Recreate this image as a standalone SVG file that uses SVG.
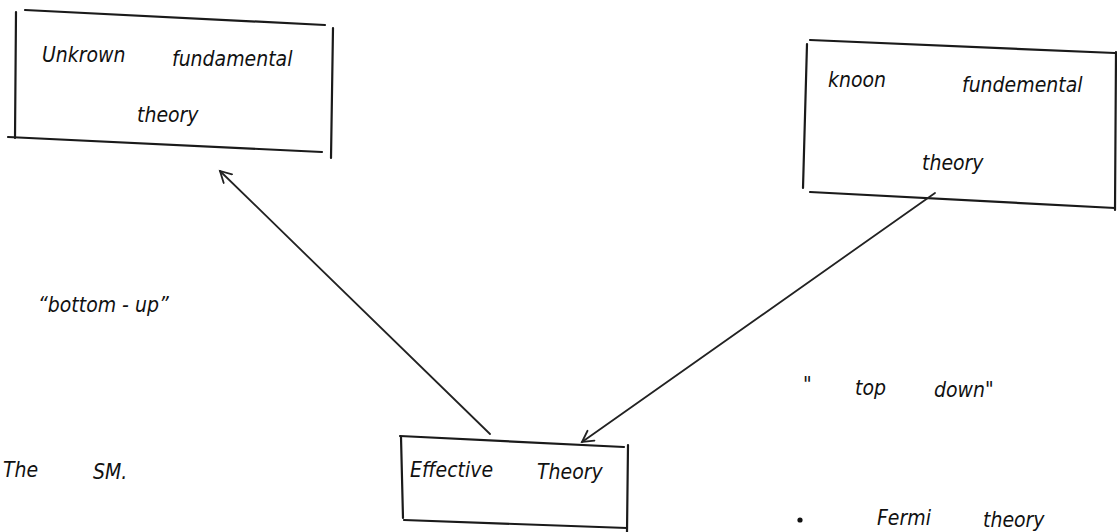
<svg xmlns="http://www.w3.org/2000/svg" width="1117" height="532" viewBox="0 0 1117 532">
<defs>
<style>
.edge{stroke:#1a1a1a;stroke-width:2.2;fill:none;stroke-linecap:round}
.conn{stroke:#222;stroke-width:1.8;fill:none;stroke-linecap:round}
.t{font-family:"Liberation Sans Narrow","DejaVu Sans Condensed","Liberation Sans",sans-serif;font-size:21px;fill:#111;font-style:italic;font-stretch:condensed}
</style>
<marker id="head" markerWidth="16" markerHeight="16" refX="12" refY="7" orient="auto" markerUnits="userSpaceOnUse">
<path d="M1,1 L12,7 L1,13" class="conn"/>
</marker>
</defs>
<rect width="1117" height="532" fill="#fff"/>
<g id="unknown-fundamental-theory">
<path class="edge" d="M25,10 L325,25"/>
<path class="edge" d="M16,12 L15,138"/>
<path class="edge" d="M8,137 L322,152"/>
<path class="edge" d="M333,28 L331,158"/>
<text class="t" x="42" y="62">Unkrown</text>
<text class="t" x="172" y="66">fundamental</text>
<text class="t" x="137" y="122">theory</text>
</g>
<g id="known-fundemental-theory">
<path class="edge" d="M810,40 L1115,53"/>
<path class="edge" d="M807,44 L803,188"/>
<path class="edge" d="M810,192 L1115,208"/>
<path class="edge" d="M1116,52 L1115,210"/>
<text class="t" x="828" y="87">knoon</text>
<text class="t" x="962" y="92">fundemental</text>
<text class="t" x="922" y="170">theory</text>
</g>
<g id="effective-theory">
<path class="edge" d="M400,436 L624,447"/>
<path class="edge" d="M401,437 L403,518"/>
<path class="edge" d="M628,445 L627,532"/>
<path class="edge" d="M404,520 L627,528"/>
<text class="t" x="410" y="477">Effective</text>
<text class="t" x="537" y="479">Theory</text>
</g>
<g id="connectors">
<path class="conn" d="M490,434 L220,171" marker-end="url(#head)"/>
<path class="conn" d="M935,193 L582,442" marker-end="url(#head)"/>
</g>
<g id="labels">
<text class="t" x="38" y="312">“bottom - up”</text>
<text class="t" x="3" y="477">The</text>
<text class="t" x="93" y="479">SM.</text>
<text class="t" x="803" y="392">"</text>
<text class="t" x="855" y="395">top</text>
<text class="t" x="934" y="397">down"</text>
<circle cx="800" cy="520" r="2.6" fill="#111"/>
<text class="t" x="877" y="525">Fermi</text>
<text class="t" x="983" y="527">theory</text>
</g>
</svg>
